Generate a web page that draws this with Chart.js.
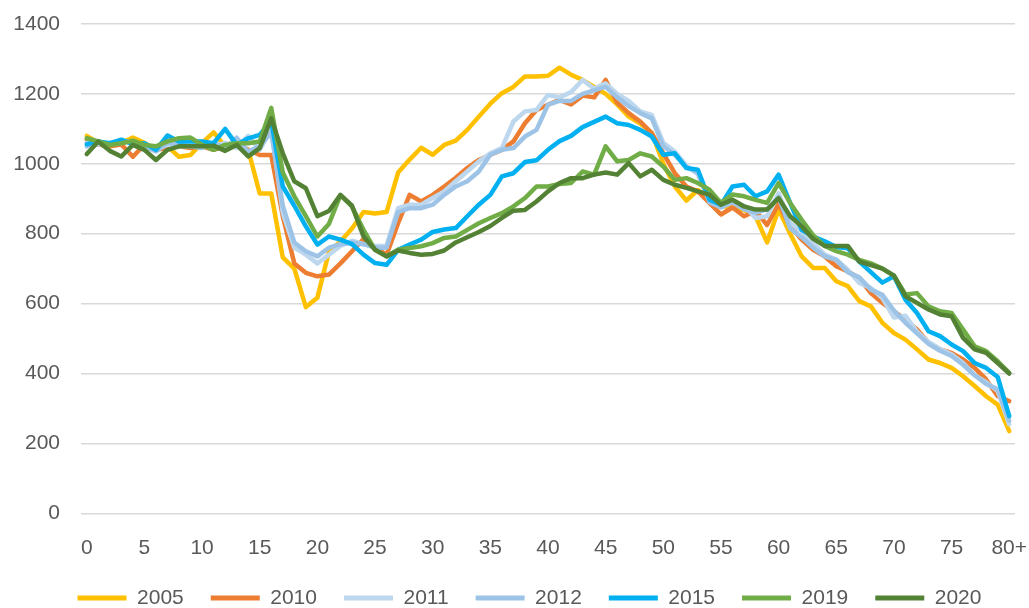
<!DOCTYPE html>
<html>
<head>
<meta charset="utf-8">
<script src="https://cdn.jsdelivr.net/npm/chart.js@4/dist/chart.umd.min.js"></script>
<style>
html,body{margin:0;padding:0;background:#fff;}
#wrap{width:1029px;height:608px;position:relative;}
</style>
</head>
<body>
<div id="wrap"><canvas id="chart"></canvas></div>
<script>
/* 데이터 */
let ages=[];
for(let i=0;i<80;i++) ages.push(String(i));
ages.push("80+");

let y2005=[1080,1060,1050,1060,1075,1060,1040,1050,1020,1025, 1060,1090,1050,1060,1040,915,915,732,700,590,
617,748,778,815,862,858,862,975,1012,1046, 1026,1054,1066,1097,1135,1172,1202,1220,1250,1250,
1252,1275,1255,1240,1220,1200,1170,1135,1115,1088, 1000,935,895,925,900,880,875,868,850,775,
870,800,735,702,702,664,650,607,592,545, 516,497,469,440,430,416,392,364,335,311, 235];

let y2010=[1070,1055,1050,1055,1020,1055,1040,1045,1050,1045, 1050,1040,1050,1060,1040,1025,1025,850,715,688,
678,683,715,750,785,760,740,830,911,892, 911,935,960,988,1011,1026,1040,1064,1116,1154,
1169,1183,1170,1195,1190,1240,1175,1145,1121,1088, 1030,973,935,921,888,855,875,850,865,825,
885,821,783,754,735,707,692,673,630,602, 578,554,526,488,469,459,440,416,383,335, 321];

let y2011=[1060,1055,1060,1060,1065,1045,1040,1055,1050,1050, 1055,1050,1060,1045,1080,1040,1100,860,760,740,
715,740,765,780,770,765,765,873,883,883, 902,921,950,978,1007,1030,1045,1121,1150,1154,
1197,1190,1205,1240,1215,1230,1200,1180,1150,1140, 1060,1035,995,970,895,880,895,880,845,850,
916,830,807,773,740,726,697,659,645,616, 560,565,520,490,470,455,430,395,375,350, 255];

let y2012=[1050,1060,1055,1065,1060,1050,1035,1060,1055,1050, 1045,1060,1045,1075,1035,1050,1090,880,775,750,
735,760,770,775,770,760,760,862,873,873, 883,911,935,950,978,1026,1040,1045,1078,1097,
1169,1180,1180,1200,1210,1220,1190,1165,1145,1130, 1050,1025,990,975,890,875,890,870,860,870,
905,815,790,760,735,725,690,675,640,625, 580,545,515,485,465,450,425,395,370,355, 265];

let y2015=[1056,1064,1059,1069,1056,1059,1040,1081,1064,1064, 1064,1059,1100,1054,1073,1083,1121,935,880,821,
769,792,783,770,740,716,711,754,769,783, 805,812,816,850,883,911,964,973,1005,1010,
1040,1065,1080,1105,1120,1135,1116,1111,1097,1078, 1026,1030,988,983,897,883,935,940,907,921,
969,888,811,792,778,762,758,720,690,660, 678,611,573,521,507,483,464,430,416,390, 278];

let y2019=[1073,1064,1054,1059,1066,1054,1050,1064,1073,1075, 1054,1040,1054,1059,1059,1064,1160,975,907,850,
792,828,910,878,811,754,735,754,759,764, 773,788,792,811,830,845,859,878,902,935,
935,942,945,978,969,1050,1007,1011,1030,1021, 992,954,959,945,926,888,912,907,897,888,
945,888,840,795,765,750,740,725,715,700, 680,626,630,592,578,573,526,478,464,435, 402];

let y2020=[1028,1064,1037,1021,1054,1040,1011,1040,1050,1050, 1050,1052,1037,1054,1021,1045,1130,1030,950,930,
850,865,911,880,792,754,735,752,745,740, 742,752,775,790,805,822,845,866,868,892,
921,945,959,959,969,975,969,1002,964,983, 954,940,931,921,912,883,897,878,869,869,
902,850,821,785,765,765,765,720,710,700, 680,621,602,583,569,564,502,469,459,430, 400];

let names=["2005","2010","2011","2012","2015","2019","2020"];
let colors=["#ffc000","#ed7d31","#bdd7ee","#9dc3e6","#00b0f0","#70ad47","#548235"];
let values=[y2005,y2010,y2011,y2012,y2015,y2019,y2020];
let yTicks=[0,200,400,600,800,1000,1200,1400];

const FONT="'Liberation Sans', Arial, sans-serif";
const TXT="#595959";
Chart.defaults.font.family=FONT;

/* 범례 위치 보정 */
const legendShift={
id:"legendShift",
afterLayout(c){ if(c.legend) c.legend.left+=44; }
};

/* 그래프 */
let chart=new Chart(document.getElementById("chart"),{
type:"line",
data:{
labels:ages,
datasets:values.map((v,i)=>({
label:names[i],data:v,borderColor:colors[i],backgroundColor:colors[i],
borderWidth:4.5,pointRadius:0,tension:0,borderJoinStyle:"round",borderCapStyle:"round",
order:values.length-i
}))
},
options:{
responsive:true,maintainAspectRatio:false,animation:false,
layout:{padding:{left:0,right:14,top:24,bottom:-10.5}},
plugins:{
tooltip:{enabled:false},
legend:{position:"bottom",labels:{
boxWidth:49,boxHeight:5,padding:27,color:TXT,font:{size:21},
generateLabels:c=>c.data.datasets.map((d,i)=>({text:d.label,fillStyle:d.borderColor,strokeStyle:d.borderColor,lineWidth:0,fontColor:TXT,datasetIndex:i,hidden:false}))
}}
},
scales:{
x:{offset:true,grid:{display:false,drawTicks:true,tickLength:22},border:{display:false},
ticks:{autoSkip:false,maxRotation:0,minRotation:0,padding:0,color:TXT,font:{size:21},
callback:(v,i)=>i%5===0?ages[i]:""}},
y:{min:yTicks[0],max:yTicks[yTicks.length-1],
afterBuildTicks:s=>{s.ticks=yTicks.map(t=>({value:t}))},
afterFit:s=>{s.width=81},
grid:{color:"#d9d9d9",lineWidth:1.5,drawTicks:true,tickLength:21,tickColor:"rgba(0,0,0,0)"},border:{display:false},
ticks:{padding:0,color:TXT,font:{size:21},callback:v=>String(v)}}
}
},
plugins:[legendShift]
});
</script>
</body>
</html>
